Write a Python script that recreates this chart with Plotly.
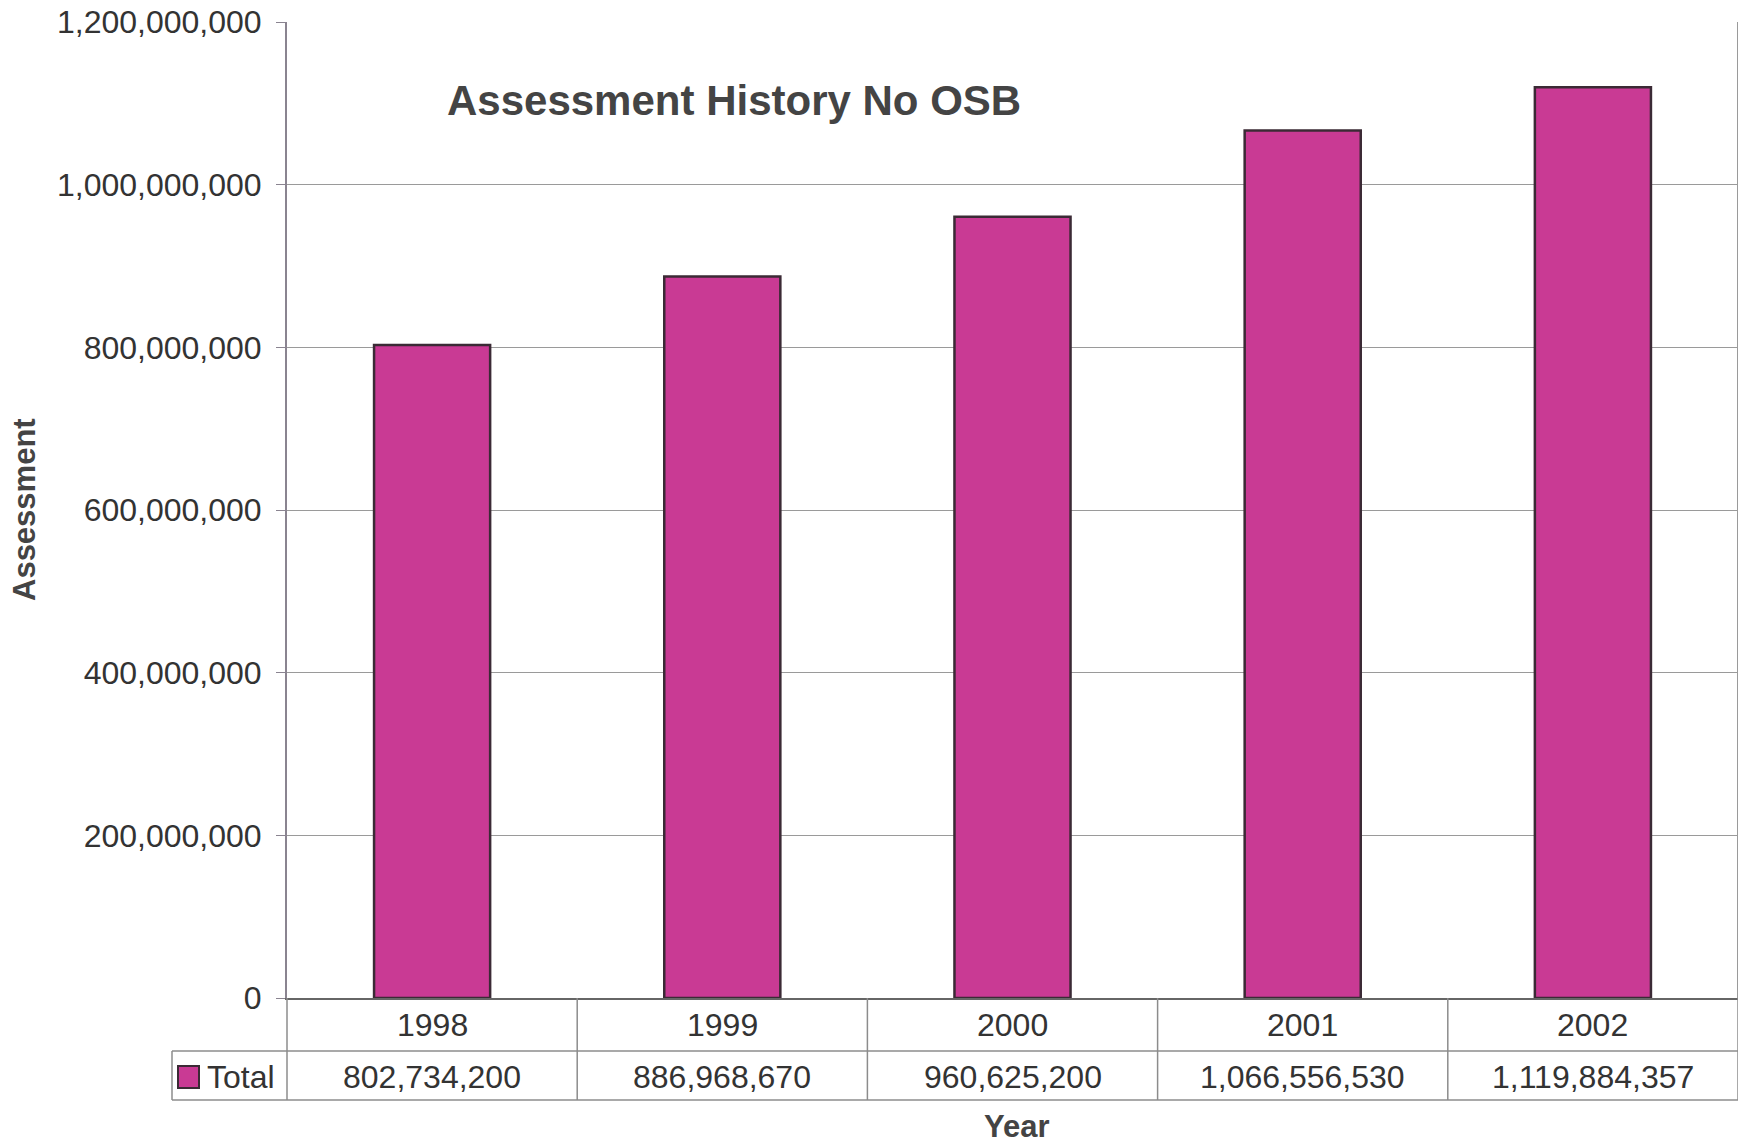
import plotly.graph_objects as go

# Assessment totals by year
years = ["1998", "1999", "2000", "2001", "2002"]
totals = [802734200, 886968670, 960625200, 1066556530, 1119884357]
series_name = "Total"
y_ticks = [0, 200000000, 400000000, 600000000, 800000000, 1000000000, 1200000000]

chart_title = "Assessment History No OSB"
y_title = "Assessment"
x_title = "Year"

# Canvas and plot-area geometry (pixels)
W, H = 1738, 1144
ML, MR, MT, MB = 287, 0, 22, 146
PW = W - ML - MR
PH = H - MT - MB

FONT = "Liberation Sans, Arial, sans-serif"
BAR_COLOR = "#C93A94"
BAR_EDGE = "#3b2a35"
GRID = "#9a9a9a"
TEXT = "#333333"
TICK_SIZE = 32


def fx(px):
    """Pixel x -> paper x."""
    return (px - ML) / PW


def fy(py):
    """Pixel y -> paper y."""
    return (H - MB - py) / PH


fig = go.Figure()
fig.add_trace(go.Bar(
    x=years,
    y=totals,
    name=series_name,
    marker=dict(color=BAR_COLOR, line=dict(color=BAR_EDGE, width=2.5)),
    showlegend=False,
))

# Data-table geometry
row1_top = H - MB
row1_bot = 1051
row2_bot = 1100
legend_left = 172
n = len(years)

shapes = []
line_style = dict(color="#8c8c8c", width=1.5)
# horizontal rules of the table
shapes.append(dict(type="line", xref="paper", yref="paper",
                   x0=fx(legend_left), x1=1, y0=fy(row1_bot), y1=fy(row1_bot), line=line_style))
shapes.append(dict(type="line", xref="paper", yref="paper",
                   x0=fx(legend_left), x1=1, y0=fy(row2_bot), y1=fy(row2_bot), line=line_style))
# vertical rules at category boundaries
for i in range(n + 1):
    shapes.append(dict(type="line", xref="paper", yref="paper",
                       x0=i / n, x1=i / n, y0=fy(row1_top), y1=fy(row2_bot), line=line_style))
shapes.append(dict(type="line", xref="paper", yref="paper",
                   x0=fx(legend_left), x1=fx(legend_left), y0=fy(row1_bot), y1=fy(row2_bot),
                   line=line_style))
# right border of the plot area
shapes.append(dict(type="line", xref="paper", yref="paper",
                   x0=1, x1=1, y0=0, y1=1, line=dict(color=GRID, width=2)))
# legend key swatch
shapes.append(dict(type="rect", xref="paper", yref="paper",
                   x0=fx(178), x1=fx(199), y0=fy(1088), y1=fy(1066),
                   fillcolor=BAR_COLOR, line=dict(color=BAR_EDGE, width=2)))


def label(x, y, text, size, xref="paper", color=TEXT, **kw):
    return dict(x=x, xref=xref, y=y, yref="paper", text=text, showarrow=False,
                xanchor=kw.pop("xanchor", "center"), yanchor="middle",
                font=dict(family=FONT, size=size, color=color), **kw)


annotations = []
for i, (yr, v) in enumerate(zip(years, totals)):
    annotations.append(label(i, fy((row1_top + row1_bot) / 2), yr, TICK_SIZE, xref="x"))
    annotations.append(label(i, fy((row1_bot + row2_bot) / 2 + 1), f"{v:,}", TICK_SIZE, xref="x"))

annotations.append(label(fx(205), fy(1077), series_name, TICK_SIZE, xanchor="left"))
annotations.append(label(fx(734), fy(100), f"<b>{chart_title}</b>", 42, color="#444444"))
annotations.append(label(fx(24), fy(510), f"<b>{y_title}</b>", 31, color="#444444", textangle=-90))
annotations.append(label(fx(1017), fy(1126), f"<b>{x_title}</b>", 31, color="#444444"))

fig.update_layout(
    width=W, height=H,
    margin=dict(l=ML, r=MR, t=MT, b=MB, pad=0),
    paper_bgcolor="white",
    plot_bgcolor="white",
    bargap=0.6,
    font=dict(family=FONT, color=TEXT),
    shapes=shapes,
    annotations=annotations,
    xaxis=dict(
        type="category",
        range=[-0.5, n - 0.5],
        showticklabels=False,
        showgrid=False,
        ticks="",
        showline=True,
        linecolor="#666666",
        linewidth=2,
        fixedrange=True,
    ),
    yaxis=dict(
        range=[0, 1200000000],
        tickvals=y_ticks,
        tickformat=",d",
        tickfont=dict(family=FONT, size=TICK_SIZE, color=TEXT),
        showgrid=True,
        gridcolor=GRID,
        gridwidth=1.2,
        zeroline=False,
        showline=True,
        linecolor="#8a8490",
        linewidth=2,
        ticks="outside",
        ticklen=9,
        tickcolor="#8a8490",
        ticklabelstandoff=8,
        fixedrange=True,
    ),
)

fig.write_html("out.html")
